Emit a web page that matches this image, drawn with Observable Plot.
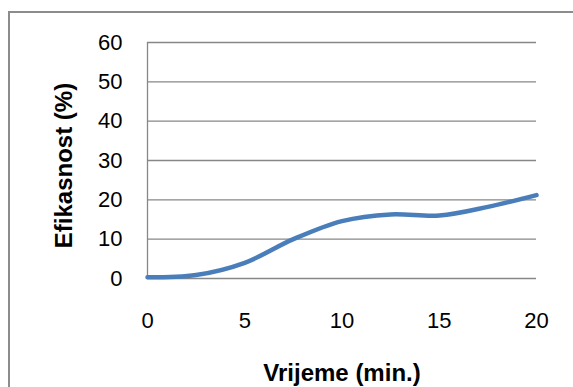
<!DOCTYPE html>
<html>
<head>
<meta charset="utf-8">
<script src="https://cdn.jsdelivr.net/npm/d3@7"></script>
<script src="https://cdn.jsdelivr.net/npm/@observablehq/plot@0.6"></script>
<style>
  html, body { margin: 0; padding: 0; background: #fff; overflow: hidden; }
  #wrap { position: relative; width: 573px; height: 387px; overflow: hidden; }
  #border { position: absolute; left: 8px; top: 11px; width: 640px; height: 460px;
            border: 2px solid #8c8c8c; box-sizing: border-box; pointer-events: none; }
  #chart { position: absolute; left: 0; top: 0; }
</style>
</head>
<body>
<div id="wrap"><div id="border"></div><div id="chart"></div></div>
<script>
const time = [0, 2.5, 5, 7.5, 10, 12.5, 15, 17.5, 20];
const efficiency = [0.3, 0.9, 4.0, 10.0, 14.6, 16.3, 16.0, 18.2, 21.2];
const xTicks = [0, 5, 10, 15, 20];
const yTicks = [0, 10, 20, 30, 40, 50, 60];
const xLabel = "Vrijeme (min.)";
const yLabel = "Efikasnost (%)";

const data = time.map((t, i) => ({t, v: efficiency[i]}));
const font = "'Liberation Sans', Arial, sans-serif";

const chart = Plot.plot({
  width: 573,
  height: 387,
  marginLeft: 147,
  marginRight: 37,
  marginTop: 42,
  marginBottom: 109,
  style: {fontFamily: font, background: "transparent", color: "#000"},
  x: {domain: [0, 20]},
  y: {domain: [0, 60]},
  marks: [
    Plot.ruleY(yTicks, {stroke: "#878787", strokeWidth: 1.3}),
    Plot.ruleX([0], {stroke: "#878787", strokeWidth: 1.3}),
    Plot.line(data, {x: "t", y: "v", stroke: "#4a7ebb", strokeWidth: 4.5, curve: "catmull-rom"}),
    Plot.axisX({ticks: xTicks, tickSize: 0, tickPadding: 34, fontSize: 22, label: null, fill: "#000"}),
    Plot.axisY({ticks: yTicks, tickSize: 0, tickPadding: 25, fontSize: 22, label: null, fill: "#000"}),
    Plot.text([xLabel], {frameAnchor: "bottom", dy: 102, fontSize: 24, fontWeight: "bold", fill: "#000"}),
    Plot.text([yLabel], {frameAnchor: "left", textAnchor: "middle", rotate: -90, dx: -83, dy: 5, fontSize: 24, fontWeight: "bold", fill: "#000"})
  ]
});
document.getElementById("chart").appendChild(chart);
</script>
</body>
</html>
